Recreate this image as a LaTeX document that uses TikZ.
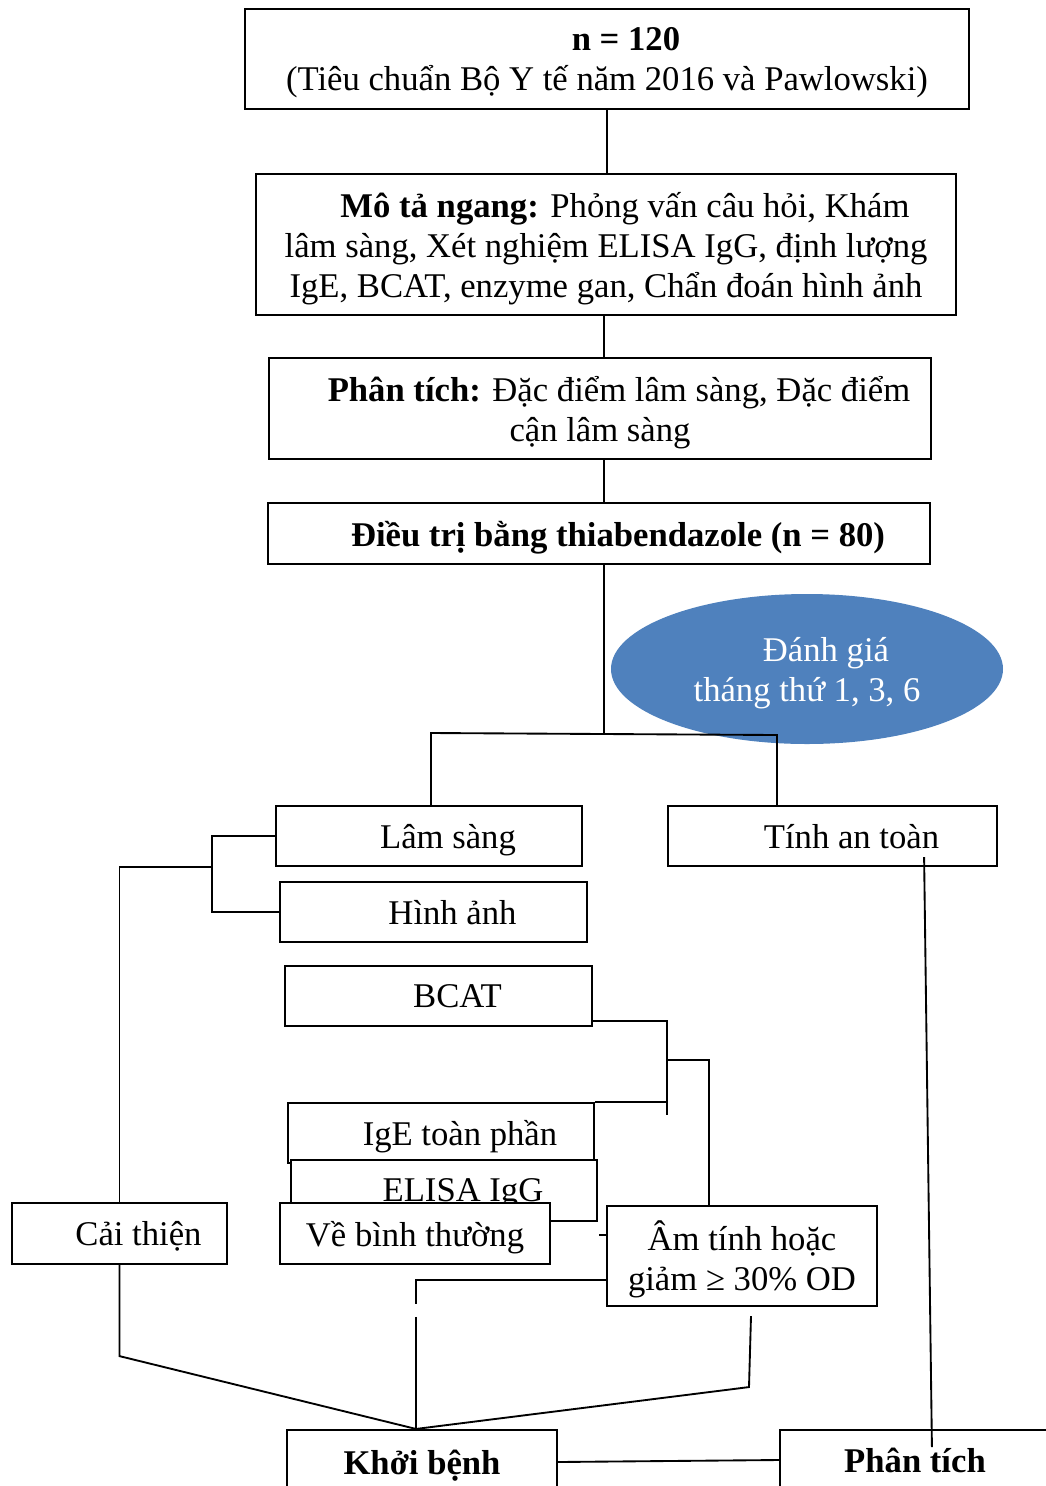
\documentclass[tikz,border=0pt]{standalone}
\usepackage{fontspec}
\setmainfont{Liberation Serif}
\usetikzlibrary{calc,shapes.geometric}
\definecolor{evalblue}{HTML}{4F81BD}
\newcommand{\firstind}{\hspace*{14.25pt}}
\tikzset{
    flowbox/.style={
        rectangle,
        draw=black,
        fill=white,
        line width=0.8pt,
        inner sep=0pt,
        text depth=0pt,
        align=center
    },
    evalellipse/.style={
        ellipse,
        fill=evalblue,
        text=white,
        inner sep=0pt,
        text depth=0pt,
        minimum width=147pt,
        minimum height=56.25pt,
        align=center
    },
    link/.style={
        draw=black,
        line width=0.7pt
    }
}
\begin{document}
\begin{tikzpicture}[x=0.375pt, y=-0.375pt, font=\fontsize{13}{15}\selectfont]
    \clip (0,0) rectangle (1046,1486);

    % Study design column
    \node[flowbox, minimum width=271.5pt, minimum height=37.5pt] (sample) at (607,59)
        {\firstind\textbf{n = 120}\\(Tiêu chuẩn Bộ Y tế năm 2016 và Pawlowski)};
    \node[flowbox, minimum width=262.5pt, minimum height=52.9pt] (survey) at (606,244.5)
        {\firstind\textbf{Mô tả ngang:} Phỏng vấn câu hỏi, Khám\\lâm sàng, Xét nghiệm ELISA IgG, định lượng\\IgE, BCAT, enzyme gan, Chẩn đoán hình ảnh};
    \node[flowbox, minimum width=248.25pt, minimum height=37.9pt] (analysis) at (600,408.5)
        {\firstind\textbf{Phân tích:} Đặc điểm lâm sàng, Đặc điểm\\cận lâm sàng};
    \node[flowbox, minimum width=248.25pt, minimum height=22.9pt] (treatment) at (599,533.5)
        {\firstind\textbf{Điều trị bằng thiabendazole (n = 80)}};
    \node[evalellipse] (evaluation) at (807,669) {\firstind Đánh giá\\tháng thứ 1, 3, 6};

    % Outcome boxes
    \node[flowbox, minimum width=114.75pt, minimum height=22.5pt] (clinical) at (429,836) {\firstind Lâm sàng};
    \node[flowbox, minimum width=115.1pt, minimum height=22.5pt] (imaging) at (433.5,912) {\firstind Hình ảnh};
    \node[flowbox, minimum width=115.1pt, minimum height=22.5pt] (bcat) at (438.5,996) {\firstind BCAT};
    \node[flowbox, minimum width=114.75pt, minimum height=22.5pt] (ige) at (441,1133) {\firstind IgE toàn phần};
    \node[flowbox, minimum width=114.75pt, minimum height=22.9pt] (elisa) at (444,1190.5) {\firstind ELISA IgG};
    \node[flowbox, minimum width=101.25pt, minimum height=22.9pt] (normal) at (415,1233.5) {Về bình thường};
    \node[flowbox, minimum width=80.6pt, minimum height=22.9pt] (improved) at (119.5,1233.5) {\firstind Cải thiện};
    \node[flowbox, minimum width=101.25pt, minimum height=37.5pt] (negative) at (742,1256)
        {Âm tính hoặc\\giảm ≥ 30\% OD};
    \node[flowbox, minimum width=123.4pt, minimum height=22.5pt] (safety) at (832.5,836) {\firstind Tính an toàn};
    \node[flowbox, minimum width=101.25pt, minimum height=24pt] (cured) at (422,1462) {\textbf{Khởi bệnh}};
    \node[flowbox, minimum width=101.25pt, minimum height=22.5pt] (result) at (915,1460) {\textbf{Phân tích}};

    % Main spine
    \coordinate (split) at (604,734);
    \coordinate (splitL) at (431,733);
    \coordinate (splitR) at (777,735);
    \draw[link] (sample.south) -- (sample.south |- survey.north);
    \draw[link] (survey.south -| split) -- (analysis.north -| split);
    \draw[link] (analysis.south -| split) -- (treatment.north -| split);
    \draw[link] (treatment.south -| split) -- (split);
    \draw[link] (clinical.north -| splitL) -- (splitL) -- (splitR) -- (safety.north -| splitR);

    % Clinical and imaging bracket
    \coordinate (bracket) at (212,867);
    \draw[link] (clinical.west) -| (bracket) |- (imaging.west);
    \draw[link] (bracket) -| (improved.north);

    % Laboratory tests
    \coordinate (labjoin) at (667,1060);
    \coordinate (labend) at (667,1115);
    \draw[link] ($(bcat.south east)+(0,-6)$) -| (labend);
    \draw[link] (ige.north east) -- (ige.north east -| labend);
    \draw[link] (labjoin) -| ($(negative.north west)+(103,0)$);
    \draw[link] ($(negative.north west)+(0,30)$) -- ++(-7,0);

    % Towards cure
    \coordinate (meet) at ($(cured.north)+(-6,0)$);
    \draw[link] ($(negative.west)+(0,24)$) -| ($(meet)+(0,-125)$);
    \draw[link] ($(meet)+(0,-112)$) -- (meet);
    \draw[link] (improved.south) -- ++(0,91) -- (meet);
    \draw[link] ($(negative.south)+(9,9)$) -- ++(-2,71) -- (meet);
    \draw[link] (cured.east) -- (result.west);
    \draw[link] ($(safety.south east)+(-74,-10)$) -- ($(result.west)+(153,-13)$);
\end{tikzpicture}
\end{document}
